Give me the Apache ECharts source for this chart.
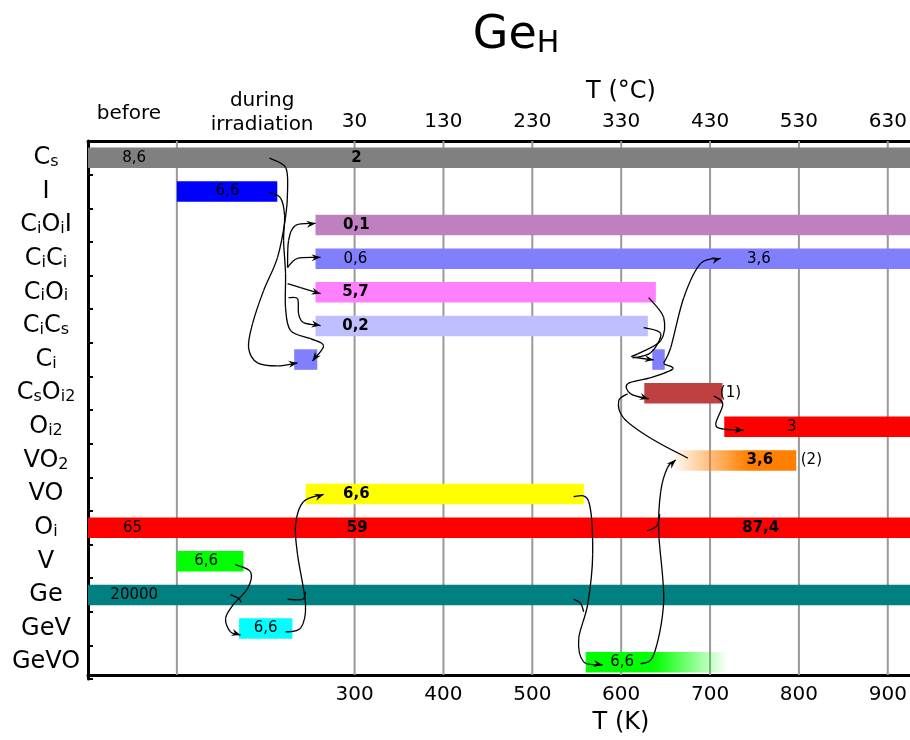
<!DOCTYPE html>
<html><head><meta charset="utf-8">
<script src="https://cdn.jsdelivr.net/npm/echarts@6/dist/echarts.min.js"></script>
<style>html,body{margin:0;padding:0;background:#fff}#c{width:910px;height:740px}</style>
</head><body><div id="c"></div>
<script>
// ---------- data ----------
// categories top to bottom; "_xx" marks a subscript
const CATEGORIES = ['C_s','I','C_iO_iI','C_iC_i','C_iO_i','C_iC_s','C_i','C_sO_i2','O_i2','VO_2','VO','O_i','V','Ge','GeV','GeVO'];
const X_MIN = 0, X_MAX = 925, X_STEP = 100;          // temperature, K
const C_OFFSET = 270;                                // top axis label = K - 270
const GRID_K = [100, 300, 400, 500, 600, 700, 800, 900];
const ZONE_K = [46, 196];
const ZONE_TEXT = ['before', 'during\nirradiation'];

// bars: [row, start K, end K]
const BARS = [
  [0, 0, 1000],     // Cs
  [1, 100, 213],    // I
  [2, 256, 1000],   // CiOiI
  [3, 256, 1000],   // CiCi
  [4, 256, 639],    // CiOi
  [5, 256, 630],    // CiCs
  [6, 232, 258],    // Ci (irradiation)
  [6, 635, 649],    // Ci (anneal)
  [7, 626, 714],    // CsOi2
  [8, 716, 1000],   // Oi2
  [9, 655, 797],    // VO2
  [10, 245, 558],   // VO
  [11, 0, 1000],    // Oi
  [12, 100, 175],   // V
  [13, 0, 1000],    // Ge
  [14, 170, 230],   // GeV
  [15, 560, 720]    // GeVO
];
const BAR_COLORS = ['#808080','#0000ff','#bf80bf','#8080ff','#ff80ff','#bfbfff','#8080ff','#8080ff','#bf4040','#ff0000','#ff8000','#ffff00','#ff0000','#00ff00','#008080','#00ffff','#00ff00'];
const BAR_FADE = ['','','','','','','','','','','in','','','','','','out'];

// bar labels: [row, K, text]
const BAR_LABELS = [
  [0, 52, '8,6'], [0, 302, '2'],
  [1, 157, '6,6'],
  [2, 302, '0,1'],
  [3, 301, '0,6'], [3, 755, '3,6'],
  [4, 301, '5,7'],
  [5, 301, '0,2'],
  [7, 723, '(1)'],
  [8, 792, '3'],
  [9, 756, '3,6'], [9, 814, '(2)'],
  [10, 302, '6,6'],
  [11, 50, '65'], [11, 303, '59'], [11, 757, '87,4'],
  [12, 133, '6,6'],
  [13, 52, '20000'],
  [14, 200, '6,6'],
  [15, 601, '6,6']
];
const LABEL_BOLD = [0,1,0,1,0,0,1,1,0,0,1,0,1,0,1,1,0,0,0,0];

// arrows (with head): list of [K, row] points
const ARROWS = [
  [[204.3,0.01],[222.3,0.28],[224.6,0.96],[222.3,1.77],[213.3,2.96],[197.6,3.95],[185.2,4.93],[180.7,5.65],[190.8,6.10],[213.3,6.19],[235.8,6.10]],
  [[204.3,1.02],[216.7,1.20],[221.2,1.71],[220.1,2.46],[222.3,3.44],[222.3,4.46],[228.0,5.14],[250.5,5.38],[265.1,5.59],[252.7,6.04]],
  [[224.6,3.26],[225.7,2.46],[233.6,2.01],[256.1,1.95]],
  [[224.6,3.26],[235.8,2.99],[261.7,2.96]],
  [[224.6,3.74],[239.2,3.86],[261.7,4.04]],
  [[225.7,4.16],[235.8,4.19],[237.0,4.64],[242.6,4.90],[261.7,4.99]],
  [[631.0,4.16],[647.8,4.75],[644.5,5.44],[618.6,5.83],[612.9,5.92],[636.6,6.01]],
  [[647.8,6.10],[655.7,5.65],[670.4,4.16],[689.5,3.14],[712.0,2.99]],
  [[647.8,6.13],[658.0,6.28],[633.2,6.54],[607.3,6.72],[610.7,7.02],[631.0,7.17]],
  [[704.1,7.08],[714.3,7.32],[706.4,7.92],[715.4,8.07],[737.9,8.10]],
  [[622.0,15.05],[636.6,14.78],[647.8,13.19],[642.2,11.13],[644.5,9.92],[652.3,9.20],[661.4,8.99]],
  [[546.5,10.07],[563.4,10.22],[567.9,11.80],[562.3,13.28],[552.2,14.30],[557.8,14.99],[579.2,15.08]],
  [[166.0,12.10],[182.9,12.31],[179.6,12.81],[163.8,13.28],[154.8,13.70],[160.4,14.10],[171.7,14.19]],
  [[222.3,14.10],[239.2,13.99],[244.8,13.28],[235.8,11.80],[233.6,10.90],[242.6,10.22],[265.1,10.01]]
];
// joining curves (no head)
const JOINS = [
  [[625.3,5.05],[644.5,5.23],[633.2,5.80],[612.9,5.95]],
  [[674.9,8.93],[633.2,8.34],[602.8,7.74],[597.2,7.23],[607.3,7.02]],
  [[628.7,11.10],[640.0,10.95],[643.5,10.6]],
  [[546.5,13.13],[554.4,13.25],[557.8,13.5]],
  [[160.4,12.99],[169.4,13.10],[172.5,13.22]],
  [[224.6,13.13],[241.5,13.13],[244.8,12.9]]
];

// ---------- rendering ----------
const FONT = 'DejaVu Sans';
const ZONE_DY = [27, 28.5];   // layout: distance of zone label centre above the plot
const AXIS_SHIFT = 4;         // layout: bottom axis drawn slightly inside the last band
const chart = echarts.init(document.getElementById('c'), null, {renderer: 'canvas'});

function catRich(s) {
  return '{n|' + s.replace(/_([a-z0-9]+)/g, '}{s|$1}{n|') + '}';
}
function toPx(api, k, r) {
  const a = api.coord([k, 0]), b = api.coord([k, 1]);
  return [a[0], a[1] + r * (b[1] - a[1])];
}
function curveChildren(pts, head) {
  const ch = [];
  const n = pts.length;
  for (let i = 0; i < n - 1; i++) {
    const p0 = pts[Math.max(i - 1, 0)], p1 = pts[i], p2 = pts[i + 1], p3 = pts[Math.min(i + 2, n - 1)];
    ch.push({type: 'bezierCurve', shape: {
      x1: p1[0], y1: p1[1], x2: p2[0], y2: p2[1],
      cpx1: p1[0] + (p2[0] - p0[0]) / 6, cpy1: p1[1] + (p2[1] - p0[1]) / 6,
      cpx2: p2[0] - (p3[0] - p1[0]) / 6, cpy2: p2[1] - (p3[1] - p1[1]) / 6
    }, style: {stroke: '#000', fill: 'none', lineWidth: 1.3}});
  }
  if (head) {
    const t = pts[n - 1], q = pts[n - 2];
    let dx = t[0] - q[0], dy = t[1] - q[1];
    const L = Math.hypot(dx, dy) || 1; dx /= L; dy /= L;
    const bx = t[0] - dx * 9, by = t[1] - dy * 9;
    ch.push({type: 'polygon', shape: {points: [[t[0], t[1]], [bx - dy * 3.5, by + dx * 3.5], [t[0] - dx * 6, t[1] - dy * 6], [bx + dy * 3.5, by - dx * 3.5]]}, style: {fill: '#000'}});
  }
  return ch;
}

const option = {
  animation: false,
  backgroundColor: '#fff',
  textStyle: {fontFamily: FONT},
  grid: {left: 88, right: 0, top: 141, bottom: 59, containLabel: false},
  graphic: [{
    type: 'text', x: 516, y: 36,
    style: {text: '{a|Ge}{b|H}', align: 'center', verticalAlign: 'middle',
      rich: {a: {fontSize: 46, fontFamily: FONT, fill: '#000', verticalAlign: 'bottom'},
             b: {fontSize: 30, fontFamily: FONT, fill: '#000', verticalAlign: 'bottom'}}}
  }],
  xAxis: [{
    type: 'value', position: 'bottom', offset: -AXIS_SHIFT, min: X_MIN, max: X_MAX, interval: X_STEP,
    axisLine: {show: true, lineStyle: {color: '#000', width: 3}},
    axisTick: {show: false}, splitLine: {show: false},
    axisLabel: {color: '#000', fontSize: 20, fontFamily: FONT, margin: 10, showMaxLabel: false,
      formatter: v => (v >= 300 && v % 100 === 0) ? String(v) : ''},
    name: 'T (K)', nameLocation: 'middle', nameGap: 36,
    nameTextStyle: {color: '#000', fontSize: 24, fontFamily: FONT, padding: [0, 0, 0, 244]}
  }, {
    type: 'value', position: 'top', min: X_MIN, max: X_MAX, interval: X_STEP,
    axisLine: {show: true, lineStyle: {color: '#000', width: 3}},
    axisTick: {show: false}, splitLine: {show: false},
    axisLabel: {color: '#000', fontSize: 20, fontFamily: FONT, margin: 9, showMaxLabel: false,
      formatter: v => (v >= 300 && v % 100 === 0) ? String(v - C_OFFSET) : ''},
    name: 'T (°C)', nameLocation: 'middle', nameGap: 37,
    nameTextStyle: {color: '#000', fontSize: 24, fontFamily: FONT, padding: [0, 0, 0, 244]}
  }],
  yAxis: {
    type: 'category', data: CATEGORIES, inverse: true,
    axisLine: {show: true, lineStyle: {color: '#000', width: 3}},
    axisTick: {show: true, inside: true, length: 5, interval: 0, lineStyle: {color: '#000', width: 2}},
    splitLine: {show: false},
    axisLabel: {interval: 0, align: 'center', margin: 42, formatter: catRich,
      rich: {n: {fontSize: 24, fontFamily: FONT, color: '#000', verticalAlign: 'bottom'},
             s: {fontSize: 16, fontFamily: FONT, color: '#000', verticalAlign: 'bottom'}}}
  },
  series: [
    { // grid lines
      type: 'custom', z: 1, silent: true,
      data: GRID_K.map(k => [k, 0]), encode: {x: 0, y: 1},
      renderItem: (params, api) => {
        const x = api.coord([api.value(0), 0])[0];
        const cs = params.coordSys;
        return {type: 'line', shape: {x1: x, y1: cs.y, x2: x, y2: cs.y + cs.height - AXIS_SHIFT},
          style: {stroke: '#999999', lineWidth: 2}};
      }
    },
    { // zone labels above the plot
      type: 'custom', z: 5, silent: true,
      data: ZONE_K.map(k => [k, 0]), encode: {x: 0, y: 1},
      renderItem: (params, api) => {
        const x = api.coord([api.value(0), 0])[0];
        const cs = params.coordSys;
        return {type: 'text', x: x, y: cs.y - ZONE_DY[params.dataIndex],
          style: {text: ZONE_TEXT[params.dataIndex], fill: '#000', fontSize: 20, fontFamily: FONT,
            lineHeight: 24, align: 'center', verticalAlign: 'middle'}};
      }
    },
    { // bars
      type: 'custom', z: 2, silent: true, clip: true,
      data: BARS, encode: {x: [1, 2], y: 0},
      renderItem: (params, api) => {
        const row = api.value(0);
        const p0 = api.coord([api.value(1), row]);
        const p1 = api.coord([api.value(2), row]);
        const h = api.size([0, 1])[1] * 0.61;
        const i = params.dataIndex;
        const c = BAR_COLORS[i];
        let fill = c;
        if (BAR_FADE[i] === 'in') {
          fill = new echarts.graphic.LinearGradient(0, 0, 1, 0, [
            {offset: 0, color: 'rgba(255,128,0,0)'}, {offset: 0.62, color: c}, {offset: 1, color: c}]);
        } else if (BAR_FADE[i] === 'out') {
          fill = new echarts.graphic.LinearGradient(0, 0, 1, 0, [
            {offset: 0, color: c}, {offset: 0.48, color: c}, {offset: 1, color: 'rgba(0,255,0,0)'}]);
        }
        return {type: 'rect', shape: {x: p0[0], y: p0[1] - h / 2, width: p1[0] - p0[0], height: h},
          style: {fill: fill}};
      }
    },
    { // bar labels
      type: 'custom', z: 3, silent: true,
      data: BAR_LABELS.map(l => [l[1], l[0]]), encode: {x: 0, y: 1},
      renderItem: (params, api) => {
        const p = api.coord([api.value(0), api.value(1)]);
        const i = params.dataIndex;
        return {type: 'text', x: p[0], y: p[1],
          style: {text: BAR_LABELS[i][2], fill: '#000', fontSize: 15, fontFamily: FONT,
            fontWeight: LABEL_BOLD[i] ? 'bold' : 'normal', align: 'center', verticalAlign: 'middle'}};
      }
    },
    { // arrows
      type: 'custom', z: 4, silent: true,
      data: ARROWS.map(a => a[a.length - 1]), encode: {x: 0, y: 1},
      renderItem: (params, api) => {
        const pts = ARROWS[params.dataIndex].map(p => toPx(api, p[0], p[1]));
        return {type: 'group', children: curveChildren(pts, true)};
      }
    },
    { // joining curves
      type: 'custom', z: 4, silent: true,
      data: JOINS.map(a => a[a.length - 1]), encode: {x: 0, y: 1},
      renderItem: (params, api) => {
        const pts = JOINS[params.dataIndex].map(p => toPx(api, p[0], p[1]));
        return {type: 'group', children: curveChildren(pts, false)};
      }
    }
  ]
};
chart.setOption(option);
</script>
</body></html>
